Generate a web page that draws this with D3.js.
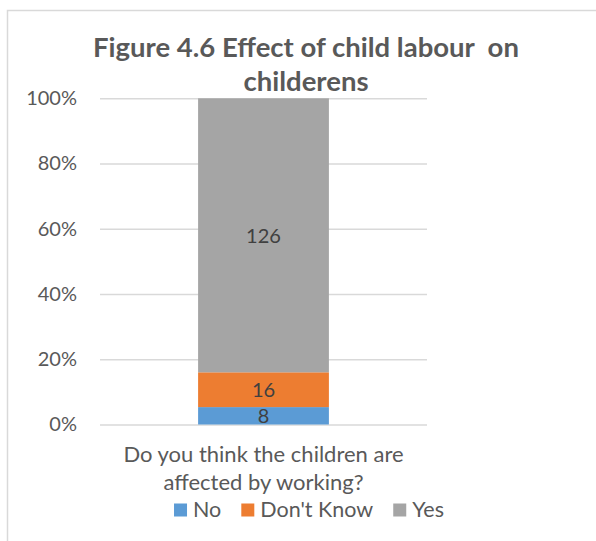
<!DOCTYPE html>
<html>
<head>
<meta charset="utf-8">
<script src="https://cdn.jsdelivr.net/npm/d3@7"></script>
<style>
  html, body { margin: 0; padding: 0; background: #fff; }
  svg { display: block; }
  text { font-family: Lato, "Noto Sans", sans-serif; }
</style>
</head>
<body>
<svg id="chart" width="596" height="541"></svg>
<script>
// ---- data ----
const category = "Do you think the children are affected by working?";
const categoryLines = ["Do you think the children are", "affected by working?"];
const seriesNames = ["No", "Don't Know", "Yes"];
const seriesValues = [8, 16, 126];
const seriesColors = ["#5B9BD5", "#ED7D31", "#A5A5A5"];
const tickValues = [0, 0.2, 0.4, 0.6, 0.8, 1.0];
const titleLines = ["Figure 4.6 Effect of child labour  on", "childerens"];

const svg = d3.select("#chart");

// chart border (Excel chart area, extending past the picture edge)
svg.append("rect")
  .attr("x", 7.5).attr("y", 10.5)
  .attr("width", 700).attr("height", 700)
  .attr("fill", "#fff").attr("stroke", "#D9D9D9").attr("stroke-width", 1.5);

const plot = { left: 100, right: 427, top: 98.3, bottom: 424.5 };

const y = d3.scaleLinear().domain([0, 1]).range([plot.bottom, plot.top]);
const x = d3.scaleBand().domain([category]).range([plot.left, plot.right])
  .paddingInner(0).paddingOuter(0.75);

// gridlines + tick labels
const yAxis = d3.axisLeft(y).tickValues(tickValues)
  .tickFormat(d3.format(".0%"))
  .tickSize(-(plot.right - plot.left)).tickPadding(23);
const gy = svg.append("g").attr("transform", `translate(${plot.left},0)`).call(yAxis);
gy.select(".domain").remove();
gy.selectAll(".tick line").attr("stroke", "#D9D9D9").attr("stroke-width", 1.5);
gy.selectAll(".tick text")
  .attr("fill", "#595959").style("font-size", "20px")
  .style("font-family", "Lato, 'Noto Sans', sans-serif");

// stacked bars (percent stacking)
const total = d3.sum(seriesValues);
let cum = 0;
const stacked = seriesValues.map((v, i) => {
  const s = { name: seriesNames[i], value: v, y0: cum / total, y1: (cum + v) / total, color: seriesColors[i] };
  cum += v;
  return s;
});

svg.append("g").selectAll("rect").data(stacked).join("rect")
  .attr("x", x(category))
  .attr("width", x.bandwidth())
  .attr("y", d => y(d.y1))
  .attr("height", d => y(d.y0) - y(d.y1))
  .attr("fill", d => d.color);

// data labels
svg.append("g").selectAll("text").data(stacked).join("text")
  .attr("x", x(category) + x.bandwidth() / 2)
  .attr("y", d => (y(d.y0) + y(d.y1)) / 2)
  .attr("dy", "0.36em")
  .attr("text-anchor", "middle")
  .attr("fill", "#404040")
  .style("font-size", "20px")
  .text(d => d.value);

// title
const cxTitle = 306;
svg.append("g").selectAll("text").data(titleLines).join("text")
  .attr("x", cxTitle)
  .attr("y", (d, i) => 57 + i * 34)
  .attr("text-anchor", "middle")
  .attr("fill", "#595959")
  .style("font-size", "27.5px")
  .style("font-weight", "bold")
  .style("white-space", "pre")
  .attr("xml:space", "preserve")
  .text(d => d);

// category axis label
const cxCat = x(category) + x.bandwidth() / 2;
svg.append("g").selectAll("text").data(categoryLines).join("text")
  .attr("x", cxCat)
  .attr("y", (d, i) => 462 + i * 28)
  .attr("text-anchor", "middle")
  .attr("fill", "#595959")
  .style("font-size", "22px")
  .text(d => d);

// legend
const legend = svg.append("g");
const sq = 13, gapText = 6, gapItem = 20, legendBaseline = 517, legendCenter = 309;
const items = legend.selectAll("g").data(seriesNames).join("g");
items.append("rect")
  .attr("width", sq).attr("height", sq)
  .attr("y", legendBaseline - sq - 0.5)
  .attr("fill", (d, i) => seriesColors[i]);
items.append("text")
  .attr("x", sq + gapText)
  .attr("y", legendBaseline)
  .attr("fill", "#595959")
  .style("font-size", "21.5px")
  .text(d => d);
const widths = [];
items.each(function() { widths.push(sq + gapText + this.querySelector("text").getComputedTextLength()); });
const totalW = d3.sum(widths) + gapItem * (widths.length - 1);
let xpos = legendCenter - totalW / 2;
items.attr("transform", (d, i) => {
  const t = `translate(${xpos},0)`;
  xpos += widths[i] + gapItem;
  return t;
});
</script>
</body>
</html>
